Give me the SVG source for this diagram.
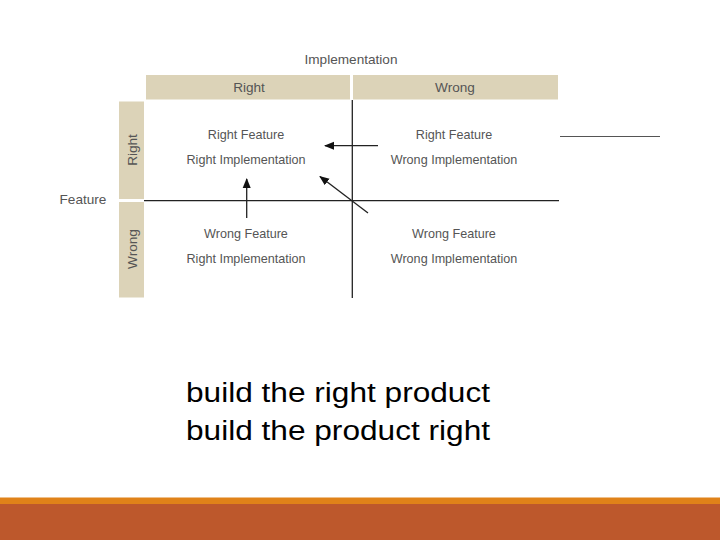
<svg xmlns="http://www.w3.org/2000/svg" width="720" height="540" viewBox="0 0 720 540">
<style>
.hdr{fill:#dcd3b8}
.lbl{font-family:"Liberation Sans",Arial,sans-serif;font-size:12.6px;fill:#555;text-anchor:middle}
.axis{font-size:13.6px}
.big{font-family:"Liberation Sans",Arial,sans-serif;font-size:27.5px;fill:#000}
.ln{stroke:#222;stroke-width:1.3;fill:none}
.ar{stroke:#222;stroke-width:1.3;fill:none;marker-end:url(#ah)}
</style>
<defs>
<marker id="ah" viewBox="0 0 10 10" refX="9" refY="5" markerWidth="10" markerHeight="10" markerUnits="userSpaceOnUse" orient="auto">
<path d="M0,1 L10,5 L0,9 Z" fill="#111"/>
</marker>
</defs>
<rect width="720" height="540" fill="#fff"/>
<text class="lbl axis" x="351" y="64">Implementation</text>
<text class="lbl axis" x="83" y="204">Feature</text>
<g id="col-right"><rect class="hdr" x="146" y="75" width="204" height="24.5"/><text class="lbl axis" x="249" y="92">Right</text></g>
<g id="col-wrong"><rect class="hdr" x="353" y="75" width="205" height="24.5"/><text class="lbl axis" x="455" y="92">Wrong</text></g>
<g id="row-right"><rect class="hdr" x="119" y="101.5" width="25" height="97.5"/><text class="lbl axis" transform="translate(136.5,150) rotate(-90)">Right</text></g>
<g id="row-wrong"><rect class="hdr" x="119" y="202" width="25" height="95.5"/><text class="lbl axis" transform="translate(137,249) rotate(-90)">Wrong</text></g>
<g id="cell-rr"><text class="lbl" x="246" y="139">Right Feature</text><text class="lbl" x="246" y="164">Right Implementation</text></g>
<g id="cell-rw"><text class="lbl" x="454" y="139">Right Feature</text><text class="lbl" x="454" y="164">Wrong Implementation</text></g>
<g id="cell-wr"><text class="lbl" x="246" y="238">Wrong Feature</text><text class="lbl" x="246" y="263">Right Implementation</text></g>
<g id="cell-ww"><text class="lbl" x="454" y="238">Wrong Feature</text><text class="lbl" x="454" y="263">Wrong Implementation</text></g>
<g id="connectors">
<line class="ln" x1="352.3" y1="100" x2="352.3" y2="298"/>
<line class="ln" x1="144" y1="200.7" x2="559" y2="200.7"/>
<line x1="560" y1="136.5" x2="660" y2="136.5" stroke="#555" stroke-width="1"/>
<line class="ar" x1="378" y1="145.7" x2="325" y2="145.7"/>
<line class="ar" x1="246.7" y1="218" x2="246.7" y2="179"/>
<line class="ar" x1="368" y1="213" x2="320" y2="176.5"/>
</g>
<text class="big" x="186" y="402" textLength="304" lengthAdjust="spacingAndGlyphs">build the right product</text>
<text class="big" x="186" y="440" textLength="304" lengthAdjust="spacingAndGlyphs">build the product right</text>
<rect x="0" y="497.5" width="720" height="7" fill="#e08219"/>
<rect x="0" y="504" width="720" height="36" fill="#bd582c"/>
</svg>
